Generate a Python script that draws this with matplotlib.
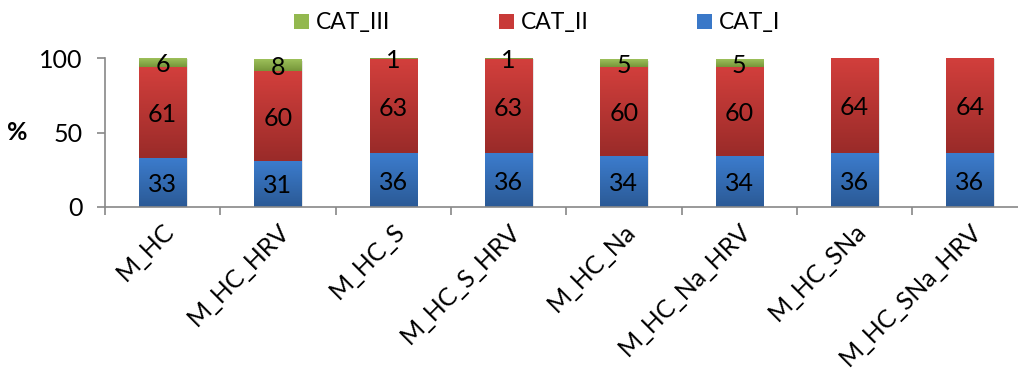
import matplotlib
matplotlib.use("Agg")
import matplotlib.pyplot as plt
import numpy as np
from matplotlib.colors import LinearSegmentedColormap
from matplotlib.patches import Patch

categories = ["M_HC", "M_HC_HRV", "M_HC_S", "M_HC_S_HRV", "M_HC_Na",
              "M_HC_Na_HRV", "M_HC_SNa", "M_HC_SNa_HRV"]
cat_i = [33, 31, 36, 36, 34, 34, 36, 36]
cat_ii = [61, 60, 63, 63, 60, 60, 64, 64]
cat_iii = [6, 8, 1, 1, 5, 5, 0, 0]
series_names = ["CAT_I", "CAT_II", "CAT_III"]
yticks = [0, 50, 100]

plt.rcParams['font.family'] = ['Lato', 'DejaVu Sans']
FS = 18

fig = plt.figure(figsize=(10.18, 3.72), dpi=100)
ax = fig.add_axes([105 / 1018, 165 / 372, 922.5 / 1018, 149 / 372])

x = np.arange(len(categories))
grads = {
    "CAT_I": ("#3c7ccd", "#2b5a96"),
    "CAT_II": ("#d23f3c", "#9a2b29"),
    "CAT_III": ("#9dc05a", "#76963a"),
}
flat = {"CAT_I": "#3a78c8", "CAT_II": "#c83a38", "CAT_III": "#93b84f"}

width = 0.41
bottom = np.zeros(len(categories))
for name, vals in zip(series_names, [cat_i, cat_ii, cat_iii]):
    vals = np.array(vals, dtype=float)
    bars = ax.bar(x, vals, width, bottom=bottom, color=flat[name],
                  edgecolor='none', zorder=2, label=name)
    top_c, bot_c = grads[name]
    cmap = LinearSegmentedColormap.from_list(name, [bot_c, top_c])
    grad = np.linspace(0, 1, 64).reshape(-1, 1)
    for rect, v in zip(bars.patches, vals):
        if v <= 0:
            continue
        x0, y0 = rect.get_x(), rect.get_y()
        w, h = rect.get_width(), rect.get_height()
        ax.add_patch(plt.Rectangle((x0 + 0.012, y0 - 0.8), w, h, color='#000000',
                                   alpha=0.10, zorder=1.5, lw=0))
        ax.imshow(grad, extent=(x0, x0 + w, y0, y0 + h), origin='lower',
                  cmap=cmap, aspect='auto', zorder=2.5)
        ax.text(x0 + w / 2, y0 + h / 2, f"{int(v)}", ha='center',
                va='center_baseline', fontsize=FS, color='black', zorder=4)
    bottom = bottom + vals

ax.set_xlim(-0.5, len(categories) - 0.5)
ax.set_ylim(0, 100)
ax.set_yticks(yticks)
ax.set_yticklabels([str(t) for t in yticks], fontsize=FS)
ax.set_xticks(x)
ax.set_xticklabels(categories, fontsize=FS, rotation=45, ha='right',
                   rotation_mode='anchor')
ax.set_xticks(np.arange(len(categories) + 1) - 0.5, minor=True)
ax.tick_params(axis='x', which='major', length=0, pad=9)
ax.tick_params(axis='x', which='minor', length=6, color='#888888', width=1.2)
ax.tick_params(axis='y', length=6, color='#888888', width=1.2, pad=10)

for s in ['top', 'right']:
    ax.spines[s].set_visible(False)
for s in ['left', 'bottom']:
    ax.spines[s].set_color('#888888')
    ax.spines[s].set_linewidth(1.2)

ax.set_ylabel('%', fontsize=FS, fontweight='bold', rotation=0, va='center')
ax.yaxis.set_label_coords(-0.095, 0.5)

leg_handles = [Patch(facecolor=flat[n], edgecolor='none') for n in ["CAT_III", "CAT_II", "CAT_I"]]
fig.legend(leg_handles, ["CAT_III", "CAT_II", "CAT_I"], loc='center',
           bbox_to_anchor=(537 / 1018, 1 - 23 / 372), ncol=3, frameon=False,
           fontsize=16.5, handlelength=0.65, handleheight=0.65, handletextpad=0.3,
           columnspacing=4.75)

fig.savefig("out.png", dpi=100)
